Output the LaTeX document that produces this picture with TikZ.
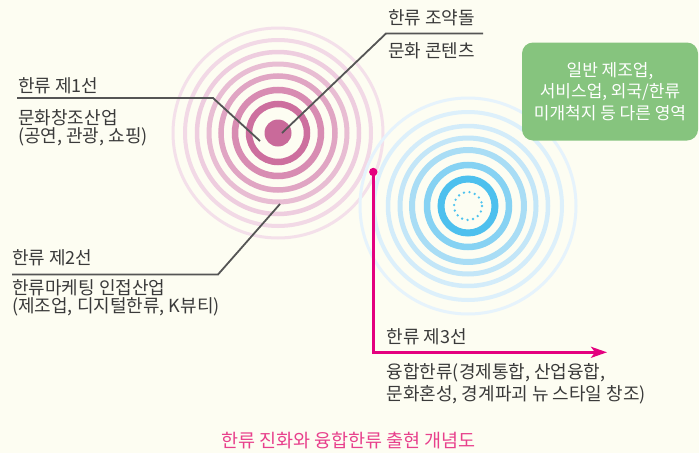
\documentclass[tikz,border=0pt]{standalone}
\usepackage{fontspec}
\setmainfont{Noto Sans CJK KR}
\usetikzlibrary{arrows.meta}
\definecolor{bg}{RGB}{253,253,242}
\definecolor{txt}{RGB}{58,58,58}
\definecolor{leader}{RGB}{85,85,85}
\definecolor{mag}{RGB}{228,0,127}
\definecolor{cap}{RGB}{232,64,140}
\definecolor{boxg}{RGB}{134,196,126}
\definecolor{pk0}{RGB}{201,106,154}
\definecolor{pk1}{RGB}{205,111,158}
\definecolor{pk2}{RGB}{216,140,178}
\definecolor{pk3}{RGB}{224,165,195}
\definecolor{pk4}{RGB}{232,189,211}
\definecolor{pk5}{RGB}{238,205,223}
\definecolor{pk6}{RGB}{242,217,230}
\definecolor{pk7}{RGB}{244,224,234}
\definecolor{bl0}{RGB}{79,195,239}
\definecolor{bl1}{RGB}{77,192,238}
\definecolor{bl2}{RGB}{134,210,243}
\definecolor{bl3}{RGB}{169,221,245}
\definecolor{bl4}{RGB}{195,230,248}
\definecolor{bl5}{RGB}{211,236,250}
\definecolor{bl6}{RGB}{221,240,251}
\definecolor{bl7}{RGB}{230,243,252}
\tikzset{
  lbl/.style={anchor=base west, inner sep=0pt, text=txt, font=\fontsize{18}{21}\selectfont},
  leaderline/.style={draw=leader, line width=1.8pt},
}
\begin{document}
\begin{tikzpicture}[x=1pt,y=-1pt]
\fill[bg] (0,0) rectangle (699,453);
\useasboundingbox (0,0) rectangle (699,453);
% pink rings
\coordinate (pc) at (278,133);
\foreach \r/\w/\c in {105/3/pk7, 93/4/pk6, 81/4.5/pk5, 69/5/pk4, 57/5.5/pk3, 43/6.5/pk2, 29/6.5/pk1}
  \draw[\c, line width=\w pt] (pc) circle[radius=\r];
\fill[pk0] (pc) circle[radius=13.5];
% blue rings
\coordinate (bc) at (468,206);
\foreach \r/\w/\c in {108/3/bl7, 94/4/bl6, 80/4.5/bl5, 68/5/bl4, 56/6/bl3, 41/6.5/bl2, 27/7/bl1}
  \draw[\c, line width=\w pt] (bc) circle[radius=\r];
\draw[bl0, line width=2.6pt, line cap=round, dash pattern=on 0pt off 5.6pt] (bc) circle[radius=14];
% leader lines
\coordinate (p1a) at (17,98);
\coordinate (p1b) at (213,98);
\coordinate (p1c) at (260,141);
\draw[leaderline] (p1a) -- (p1b) -- (p1c);
\coordinate (p2a) at (12,274.5);
\coordinate (p2b) at (218,274.5);
\coordinate (p2c) at (280,204);
\draw[leaderline] (p2a) -- (p2b) -- (p2c);
\coordinate (p0a) at (483,33.5);
\coordinate (p0b) at (386,33.5);
\coordinate (p0c) at (282,133);
\draw[leaderline] (p0a) -- (p0b) -- (p0c);
% magenta arrow
\coordinate (ma) at (373.3,172);
\coordinate (mb) at (373.3,352.3);
\coordinate (mc) at (607,352.3);
\fill[mag] (ma) circle[radius=4.2];
\draw[mag, line width=2.4pt, -{Stealth[length=16pt,width=11pt,inset=4pt]}] (ma) -- (mb) -- (mc);
% labels
\node[lbl] (t0) at (388,24) {한류 조약돌};
\node[lbl] (t0b) at (388,57) {문화 콘텐츠};
\node[lbl] (t1) at (18,92) {한류 제1선};
\node[lbl] (t1b) at (18,124.5) {문화창조산업};
\node[lbl] (t1c) at (18,142) {(공연, 관광, 쇼핑)};
\node[lbl] (t2) at (12,264) {한류 제2선};
\node[lbl] (t2b) at (12,294.5) {한류마케팅 인접산업};
\node[lbl] (t2c) at (12,312) {(제조업, 디지털한류, K뷰티)};
\node[lbl] (t3) at (386.5,343) {한류 제3선};
\node[lbl] (t3b) at (386.5,378.5) {융합한류(경제통합, 산업융합,};
\node[lbl] (t3c) at (386.5,400) {문화혼성, 경계파괴 뉴 스타일 창조)};
% green box
\node[fill=boxg, rounded corners=11pt, minimum width=176pt, minimum height=98pt, inner sep=0pt,
      text=white, align=center, font=\fontsize{17}{21.5}\selectfont] (gb) at (610,91.5)
  {일반 제조업,\\서비스업, 외국/한류\\미개척지 등 다른 영역};
% caption
\node[anchor=base, inner sep=0pt, text=cap, font=\fontsize{18.5}{21}\selectfont] (cap) at (348.5,447) {한류 진화와 융합한류 출현 개념도};
\end{tikzpicture}
\end{document}
